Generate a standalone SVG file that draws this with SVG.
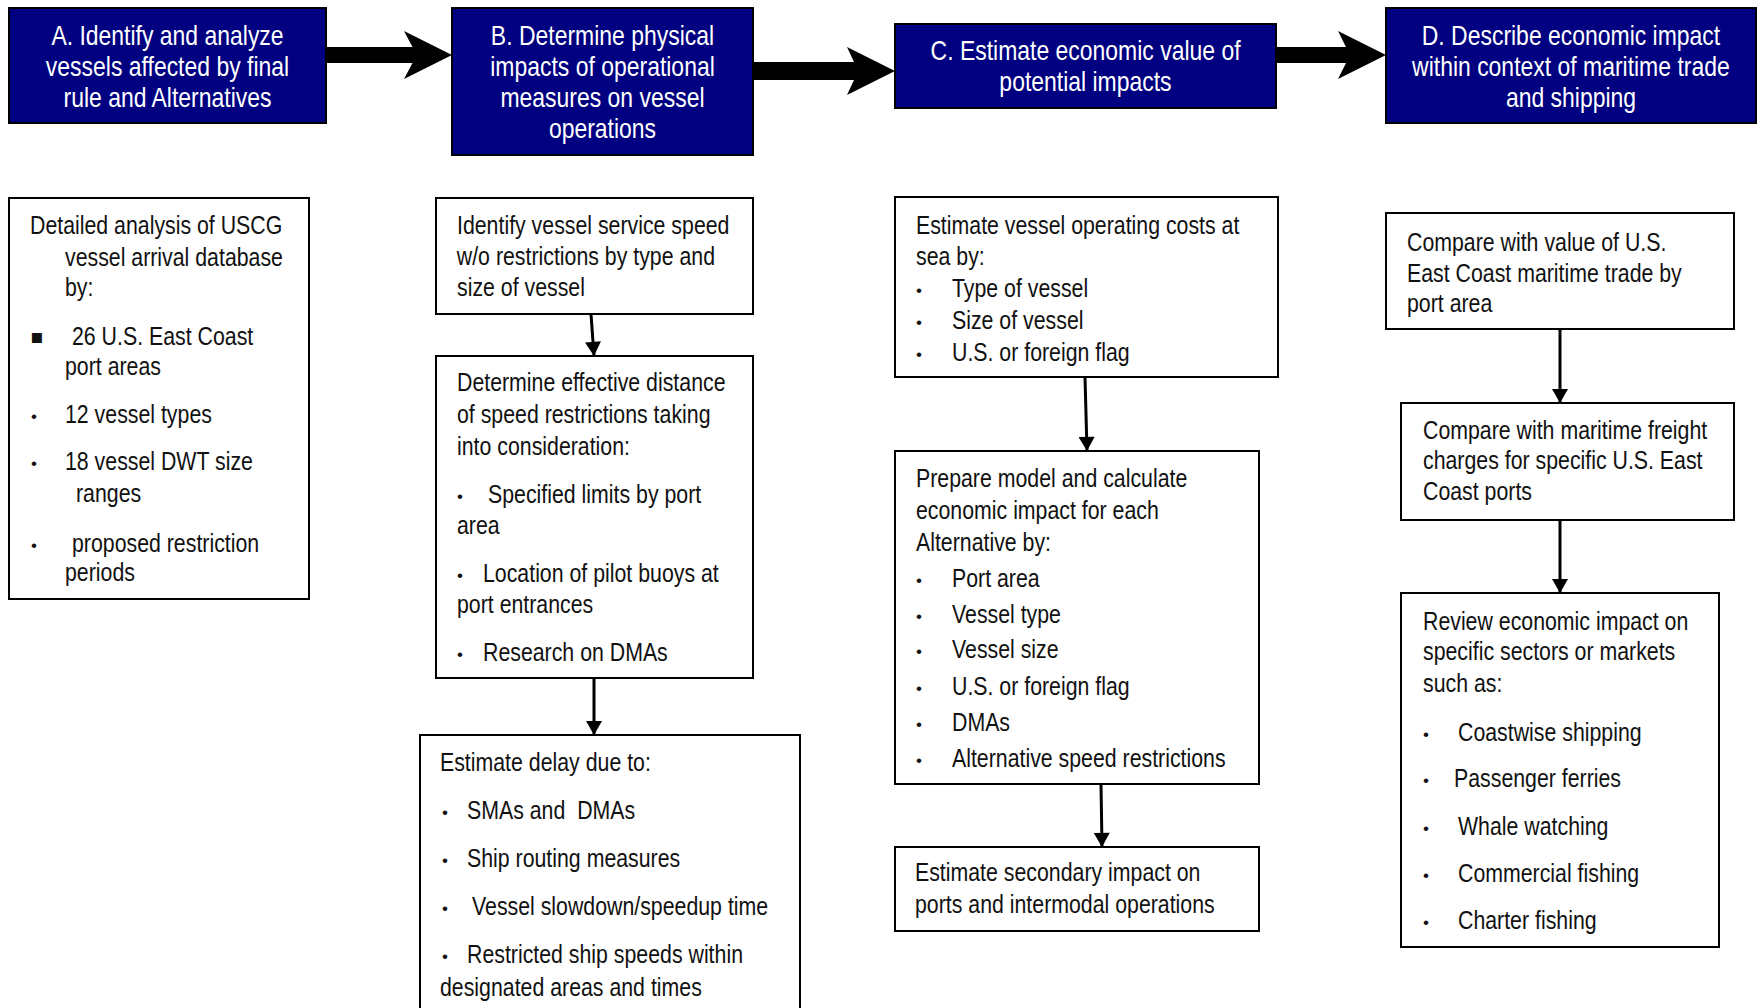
<svg xmlns="http://www.w3.org/2000/svg" width="1758" height="1008" viewBox="0 0 1758 1008">
<defs>
<style>
.hdr{fill:#000080;stroke:#000;stroke-width:2}
.box{fill:#fff;stroke:#000;stroke-width:2}
.ht{font-family:"Liberation Sans",Arial,sans-serif;font-size:28px;fill:#fff;text-anchor:middle;transform:scaleX(0.82);transform-box:fill-box;transform-origin:50% 50%}
.t{font-family:"Liberation Sans",Arial,sans-serif;font-size:26px;fill:#111;transform:scaleX(0.82);transform-box:fill-box;transform-origin:0 50%}
.b{font-family:"Liberation Sans","DejaVu Sans",sans-serif;font-size:17px;fill:#111}
.sq{font-family:"DejaVu Sans",sans-serif;font-size:20px;fill:#111}
.con{stroke:#000;stroke-width:3;fill:none}
.big{fill:#000;stroke:none}
</style>
<marker id="ah" markerUnits="userSpaceOnUse" markerWidth="18" markerHeight="16" refX="15" refY="8.5" orient="auto" viewBox="0 0 18 17">
<path d="M0,0 L15,8.5 L0,17 Z" fill="#000"/>
</marker>
</defs>
<rect width="1758" height="1008" fill="#fff"/>

<g id="connectors">
<path class="big" d="M326,47 H412.5 L404,31 L452,55 L404,79 L412.5,63 H326 Z"/>
<path class="big" d="M753,62 H854 L847,47 L895,71 L847,95 L854,80 H753 Z"/>
<path class="big" d="M1276,47 H1346 L1338,31 L1386,55 L1338,79 L1346,63 H1276 Z"/>
<line class="con" x1="591" y1="314" x2="594" y2="356" marker-end="url(#ah)"/>
<line class="con" x1="594" y1="678" x2="594" y2="735" marker-end="url(#ah)"/>
<line class="con" x1="1085" y1="377" x2="1087" y2="451" marker-end="url(#ah)"/>
<line class="con" x1="1101" y1="784" x2="1102" y2="847" marker-end="url(#ah)"/>
<line class="con" x1="1560" y1="329" x2="1560" y2="403" marker-end="url(#ah)"/>
<line class="con" x1="1560" y1="520" x2="1560" y2="593" marker-end="url(#ah)"/>
</g>

<g id="hdrA">
<rect class="hdr" x="9" y="8" width="317" height="115"/>
<text class="ht" x="167.5" y="45">A. Identify and analyze</text>
<text class="ht" x="167.5" y="76">vessels affected by final</text>
<text class="ht" x="167.5" y="107">rule and Alternatives</text>
</g>
<g id="hdrB">
<rect class="hdr" x="452" y="8" width="301" height="147"/>
<text class="ht" x="602.5" y="45">B. Determine physical</text>
<text class="ht" x="602.5" y="76">impacts of operational</text>
<text class="ht" x="602.5" y="107">measures on vessel</text>
<text class="ht" x="602.5" y="138">operations</text>
</g>
<g id="hdrC">
<rect class="hdr" x="895" y="24" width="381" height="84"/>
<text class="ht" x="1085.5" y="60">C. Estimate economic value of</text>
<text class="ht" x="1085.5" y="91">potential impacts</text>
</g>
<g id="hdrD">
<rect class="hdr" x="1386" y="8" width="370" height="115"/>
<text class="ht" x="1571" y="45">D. Describe economic impact</text>
<text class="ht" x="1571" y="76">within context of maritime trade</text>
<text class="ht" x="1571" y="107">and shipping</text>
</g>

<g id="boxA1">
<rect class="box" x="9" y="198" width="300" height="401"/>
<text class="t" x="30" y="234">Detailed analysis of USCG</text>
<text class="t" x="65" y="266">vessel arrival database</text>
<text class="t" x="65" y="296">by:</text>
<text class="sq" x="30" y="343">▪</text>
<text class="t" x="72" y="345">26 U.S. East Coast</text>
<text class="t" x="65" y="375">port areas</text>
<text class="b" x="31" y="422">•</text>
<text class="t" x="65" y="423">12 vessel types</text>
<text class="b" x="31" y="469">•</text>
<text class="t" x="65" y="470">18 vessel DWT size</text>
<text class="t" x="76" y="502">ranges</text>
<text class="b" x="31" y="551">•</text>
<text class="t" x="72" y="552">proposed restriction</text>
<text class="t" x="65" y="581">periods</text>
</g>

<g id="boxB1">
<rect class="box" x="436" y="198" width="317" height="116"/>
<text class="t" x="457" y="234">Identify vessel service speed</text>
<text class="t" x="457" y="265">w/o restrictions by type and</text>
<text class="t" x="457" y="296">size of vessel</text>
</g>
<g id="boxB2">
<rect class="box" x="436" y="356" width="317" height="322"/>
<text class="t" x="457" y="391">Determine effective distance</text>
<text class="t" x="457" y="423">of speed restrictions taking</text>
<text class="t" x="457" y="455">into consideration:</text>
<text class="b" x="457" y="502">•</text>
<text class="t" x="488" y="503">Specified limits by port</text>
<text class="t" x="457" y="534">area</text>
<text class="b" x="457" y="581">•</text>
<text class="t" x="483" y="582">Location of pilot buoys at</text>
<text class="t" x="457" y="613">port entrances</text>
<text class="b" x="457" y="660">•</text>
<text class="t" x="483" y="661">Research on DMAs</text>
</g>
<g id="boxB3">
<rect class="box" x="420" y="735" width="380" height="300"/>
<text class="t" x="440" y="771">Estimate delay due to:</text>
<text class="b" x="442" y="818">•</text>
<text class="t" x="467" y="819" style="white-space:pre">SMAs and  DMAs</text>
<text class="b" x="442" y="866">•</text>
<text class="t" x="467" y="867">Ship routing measures</text>
<text class="b" x="442" y="914">•</text>
<text class="t" x="472" y="915">Vessel slowdown/speedup time</text>
<text class="b" x="442" y="962">•</text>
<text class="t" x="467" y="963">Restricted ship speeds within</text>
<text class="t" x="440" y="996">designated areas and times</text>
</g>

<g id="boxC1">
<rect class="box" x="895" y="197" width="383" height="180"/>
<text class="t" x="916" y="234">Estimate vessel operating costs at</text>
<text class="t" x="916" y="265">sea by:</text>
<text class="b" x="916" y="296">•</text>
<text class="t" x="952" y="297">Type of vessel</text>
<text class="b" x="916" y="328">•</text>
<text class="t" x="952" y="329">Size of vessel</text>
<text class="b" x="916" y="360">•</text>
<text class="t" x="952" y="361">U.S. or foreign flag</text>
</g>
<g id="boxC2">
<rect class="box" x="895" y="451" width="364" height="333"/>
<text class="t" x="916" y="487">Prepare model and calculate</text>
<text class="t" x="916" y="519">economic impact for each</text>
<text class="t" x="916" y="551">Alternative by:</text>
<text class="b" x="916" y="586">•</text>
<text class="t" x="952" y="587">Port area</text>
<text class="b" x="916" y="622">•</text>
<text class="t" x="952" y="623">Vessel type</text>
<text class="b" x="916" y="657">•</text>
<text class="t" x="952" y="658">Vessel size</text>
<text class="b" x="916" y="694">•</text>
<text class="t" x="952" y="695">U.S. or foreign flag</text>
<text class="b" x="916" y="730">•</text>
<text class="t" x="952" y="731">DMAs</text>
<text class="b" x="916" y="766">•</text>
<text class="t" x="952" y="767">Alternative speed restrictions</text>
</g>
<g id="boxC3">
<rect class="box" x="895" y="847" width="364" height="84"/>
<text class="t" x="915" y="881">Estimate secondary impact on</text>
<text class="t" x="915" y="913">ports and intermodal operations</text>
</g>

<g id="boxD1">
<rect class="box" x="1386" y="213" width="348" height="116"/>
<text class="t" x="1407" y="251">Compare with value of U.S.</text>
<text class="t" x="1407" y="282">East Coast maritime trade by</text>
<text class="t" x="1407" y="312">port area</text>
</g>
<g id="boxD2">
<rect class="box" x="1401" y="403" width="333" height="117"/>
<text class="t" x="1423" y="439">Compare with maritime freight</text>
<text class="t" x="1423" y="469">charges for specific U.S. East</text>
<text class="t" x="1423" y="500">Coast ports</text>
</g>
<g id="boxD3">
<rect class="box" x="1401" y="593" width="318" height="354"/>
<text class="t" x="1423" y="630">Review economic impact on</text>
<text class="t" x="1423" y="660">specific sectors or markets</text>
<text class="t" x="1423" y="692">such as:</text>
<text class="b" x="1423" y="740">•</text>
<text class="t" x="1458" y="741">Coastwise shipping</text>
<text class="b" x="1423" y="786">•</text>
<text class="t" x="1454" y="787">Passenger ferries</text>
<text class="b" x="1423" y="834">•</text>
<text class="t" x="1458" y="835">Whale watching</text>
<text class="b" x="1423" y="881">•</text>
<text class="t" x="1458" y="882">Commercial fishing</text>
<text class="b" x="1423" y="928">•</text>
<text class="t" x="1458" y="929">Charter fishing</text>
</g>
</svg>
